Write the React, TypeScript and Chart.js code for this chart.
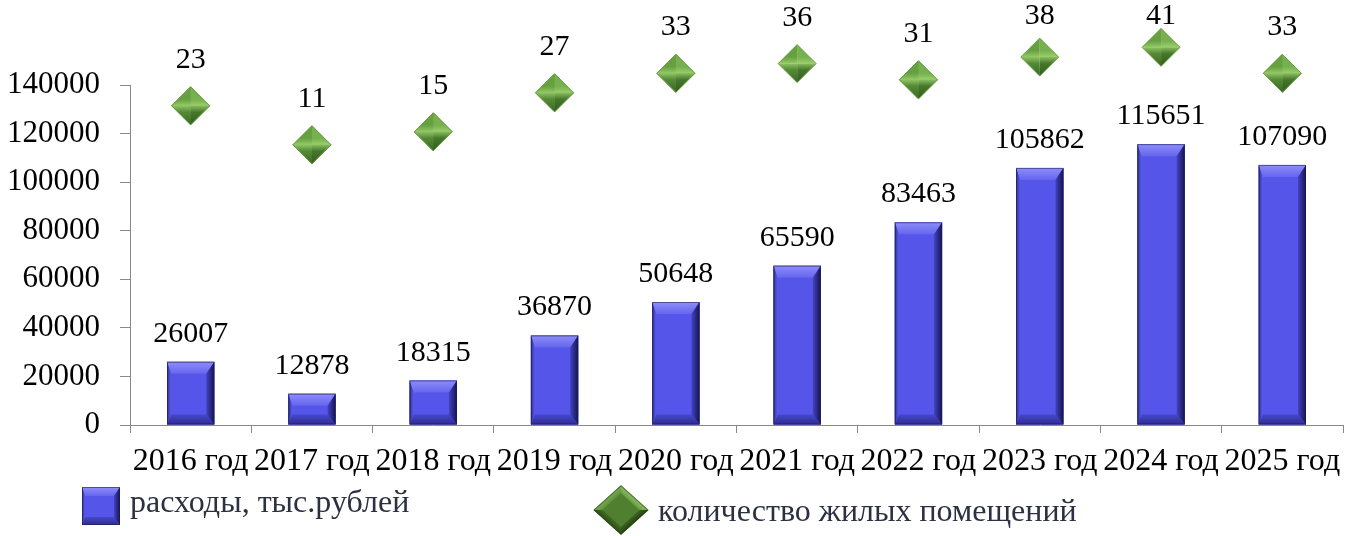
import React, { useEffect, useRef } from 'react';
import { Chart, registerables } from 'chart.js';

Chart.register(...registerables);

const categories = ['2016 год', '2017 год', '2018 год', '2019 год', '2020 год', '2021 год', '2022 год', '2023 год', '2024 год', '2025 год'];
const expenses = [26007, 12878, 18315, 36870, 50648, 65590, 83463, 105862, 115651, 107090];
const dwellings = [23, 11, 15, 27, 33, 36, 31, 38, 41, 33];
const expensesLabel = 'расходы, тыс.рублей';
const dwellingsLabel = 'количество жилых помещений';
const yMin = 0;
const yMax = 140000;
const yStep = 20000;

const FONT = '"Liberation Serif", "Times New Roman", serif';

type Pal = { face: string; topA: string; topB: string; botA: string; botB: string; leftA: string; leftB: string; rightA: string; rightB: string; edge: string };

const bluePal: Pal = {
  face: '#5555ea', topA: '#8e8ef9', topB: '#6565ef', botA: '#4747cc', botB: '#2c2c92',
  leftA: '#30308c', leftB: '#5a5aec', rightA: '#4242c2', rightB: '#15154e', edge: 'rgba(25,25,80,0.55)',
};
const greenPal: Pal = {
  face: '#4f7f2f', topA: '#8cbf63', topB: '#6a9c45', botA: '#3f6a23', botB: '#2c4d17',
  leftA: '#7aae55', leftB: '#5d8f3a', rightA: '#3c6522', rightB: '#263f14', edge: 'rgba(40,70,20,0.6)',
};

function poly(ctx: CanvasRenderingContext2D, pts: number[][], fill: string | CanvasGradient) {
  ctx.beginPath();
  ctx.moveTo(pts[0][0], pts[0][1]);
  for (let i = 1; i < pts.length; i++) ctx.lineTo(pts[i][0], pts[i][1]);
  ctx.closePath();
  ctx.fillStyle = fill;
  ctx.fill();
}

function bevelRect(ctx: CanvasRenderingContext2D, x0: number, x1: number, yT: number, yB: number, pal: Pal, bev: number[]) {
  const w = x1 - x0;
  const h = yB - yT;
  if (w <= 0 || h <= 0) return;
  let [bt, br, bb, bl] = bev;
  const kh = Math.min(1, (h * 0.9) / (bt + bb));
  bt *= kh; bb *= kh;
  const kw = Math.min(1, (w * 0.9) / (bl + br));
  bl *= kw; br *= kw;
  ctx.fillStyle = pal.face;
  ctx.fillRect(x0, yT, w, h);
  let g = ctx.createLinearGradient(0, yT, 0, yT + bt);
  g.addColorStop(0, pal.topA); g.addColorStop(1, pal.topB);
  poly(ctx, [[x0, yT], [x1, yT], [x1 - br, yT + bt], [x0 + bl, yT + bt]], g);
  g = ctx.createLinearGradient(0, yB - bb, 0, yB);
  g.addColorStop(0, pal.botA); g.addColorStop(1, pal.botB);
  poly(ctx, [[x0, yB], [x1, yB], [x1 - br, yB - bb], [x0 + bl, yB - bb]], g);
  g = ctx.createLinearGradient(x0, 0, x0 + bl, 0);
  g.addColorStop(0, pal.leftA); g.addColorStop(1, pal.leftB);
  poly(ctx, [[x0, yT], [x0 + bl, yT + bt], [x0 + bl, yB - bb], [x0, yB]], g);
  g = ctx.createLinearGradient(x1 - br, 0, x1, 0);
  g.addColorStop(0, pal.rightA); g.addColorStop(1, pal.rightB);
  poly(ctx, [[x1, yT], [x1 - br, yT + bt], [x1 - br, yB - bb], [x1, yB]], g);
  ctx.strokeStyle = pal.edge;
  ctx.lineWidth = 1;
  ctx.strokeRect(x0 + 0.5, yT + 0.5, w - 1, h - 1);
}

function gem(ctx: CanvasRenderingContext2D, cx: number, cy: number, rx: number, ry: number) {
  const L = [cx - rx, cy], T = [cx, cy - ry], R = [cx + rx, cy], B = [cx, cy + ry], C = [cx, cy];
  poly(ctx, [L, T, C], '#66a040');
  poly(ctx, [T, R, C], '#77b04e');
  poly(ctx, [R, B, C], '#44752a');
  poly(ctx, [B, L, C], '#528834');
  let g = ctx.createLinearGradient(0, cy - ry * 0.35, 0, cy + ry * 0.35);
  g.addColorStop(0, 'rgba(170,220,120,0)');
  g.addColorStop(0.5, 'rgba(175,225,125,0.65)');
  g.addColorStop(1, 'rgba(170,220,120,0)');
  poly(ctx, [L, T, R, B], g);
  g = ctx.createLinearGradient(0, cy + ry * 0.4, 0, cy + ry);
  g.addColorStop(0, 'rgba(30,60,15,0)');
  g.addColorStop(1, 'rgba(30,60,15,0.45)');
  poly(ctx, [L, T, R, B], g);
  ctx.beginPath();
  ctx.moveTo(L[0], L[1]); ctx.lineTo(T[0], T[1]); ctx.lineTo(R[0], R[1]); ctx.lineTo(B[0], B[1]); ctx.closePath();
  ctx.strokeStyle = 'rgba(110,160,70,0.9)';
  ctx.lineWidth = 1;
  ctx.stroke();
}

const decorPlugin = {
  id: 'decor',
  afterDatasetDraw(chart: any, args: any) {
    const ctx: CanvasRenderingContext2D = chart.ctx;
    const meta = args.meta;
    ctx.save();
    if (meta.type === 'bar') {
      meta.data.forEach((el: any) => {
        const p = el.getProps(['x', 'y', 'base', 'width'], true);
        bevelRect(ctx, p.x - p.width / 2, p.x + p.width / 2, Math.min(p.y, p.base), Math.max(p.y, p.base), bluePal, [12, 8, 10, 4]);
      });
    } else if (meta.type === 'line') {
      meta.data.forEach((el: any) => {
        const p = el.getProps(['x', 'y'], true);
        gem(ctx, p.x, p.y, 19, 19);
      });
    }
    ctx.restore();
  },
  afterDatasetsDraw(chart: any) {
    const ctx: CanvasRenderingContext2D = chart.ctx;
    ctx.save();
    ctx.font = `30px ${FONT}`;
    ctx.fillStyle = '#000';
    ctx.textAlign = 'center';
    ctx.textBaseline = 'alphabetic';
    chart.data.datasets.forEach((ds: any, di: number) => {
      const meta = chart.getDatasetMeta(di);
      meta.data.forEach((el: any, i: number) => {
        const p = el.getProps(['x', 'y'], true);
        const yb = meta.type === 'bar' ? p.y - 20 : Math.max(p.y - 38, 24);
        ctx.fillText(String(ds.data[i]), p.x, yb);
      });
    });
    ctx.restore();
  },
  afterDraw(chart: any) {
    const ctx: CanvasRenderingContext2D = chart.ctx;
    ctx.save();
    bevelRect(ctx, 82, 120, 487, 525, bluePal, [9, 6, 8, 3]);
    ctx.font = `32px ${FONT}`;
    ctx.fillStyle = '#2b3140';
    ctx.textAlign = 'left';
    ctx.textBaseline = 'alphabetic';
    ctx.fillText(chart.data.datasets[1].label, 130, 512);
    ctx.save();
    ctx.translate(621, 510);
    ctx.scale(1.05, 0.95);
    ctx.rotate(Math.PI / 4);
    const s = 18.5;
    bevelRect(ctx, -s, s, -s, s, greenPal, [6, 6, 6, 6]);
    ctx.restore();
    ctx.fillStyle = '#2b3140';
    ctx.fillText(chart.data.datasets[0].label, 658, 521);
    ctx.restore();
  },
};

export default function App() {
  const ref = useRef<HTMLCanvasElement>(null);
  useEffect(() => {
    document.body.style.margin = '0';
    document.body.style.overflow = 'hidden';
    const canvas = ref.current;
    if (!canvas) return;
    const chart = new Chart(canvas, {
      type: 'bar',
      data: {
        labels: categories,
        datasets: [
          {
            type: 'line',
            label: dwellingsLabel,
            data: dwellings,
            yAxisID: 'y2',
            showLine: false,
            pointStyle: 'rectRot',
            pointRadius: 19,
            pointHoverRadius: 19,
            backgroundColor: '#66a040',
            borderColor: '#5a8f38',
            borderWidth: 1,
            clip: false,
            order: 0,
          } as any,
          {
            type: 'bar',
            label: expensesLabel,
            data: expenses,
            yAxisID: 'y',
            backgroundColor: '#5555ea',
            barPercentage: 1,
            categoryPercentage: 0.39,
            order: 1,
          } as any,
        ],
      },
      options: {
        animation: false,
        responsive: true,
        maintainAspectRatio: false,
        events: [],
        layout: { padding: { top: 85, right: 8, left: 0, bottom: 0 } },
        plugins: { legend: { display: false }, tooltip: { enabled: false } },
        scales: {
          x: {
            offset: true,
            grid: { offset: true, drawOnChartArea: false, tickLength: 8, color: '#898989' },
            border: { color: '#898989' },
            ticks: { color: '#000', font: { family: FONT, size: 32 }, autoSkip: false, maxRotation: 0, minRotation: 0, padding: 9 },
            afterFit: (s: any) => { s.height = 111; },
          },
          y: {
            min: yMin,
            max: yMax,
            ticks: { stepSize: yStep, color: '#000', font: { family: FONT, size: 31 }, padding: 20, callback: (v: any) => String(v) },
            grid: { drawOnChartArea: false, tickLength: 10, color: '#898989' },
            border: { color: '#898989' },
            afterFit: (s: any) => { s.width = 130; },
          },
          y2: { display: false, min: -75.25, max: 29.41, position: 'right' },
        },
      } as any,
      plugins: [decorPlugin as any],
    });
    return () => chart.destroy();
  }, []);
  return (
    <div style={{ position: 'absolute', left: 0, top: 0, width: 1363, height: 536 }}>
      <canvas ref={ref} />
    </div>
  );
}
